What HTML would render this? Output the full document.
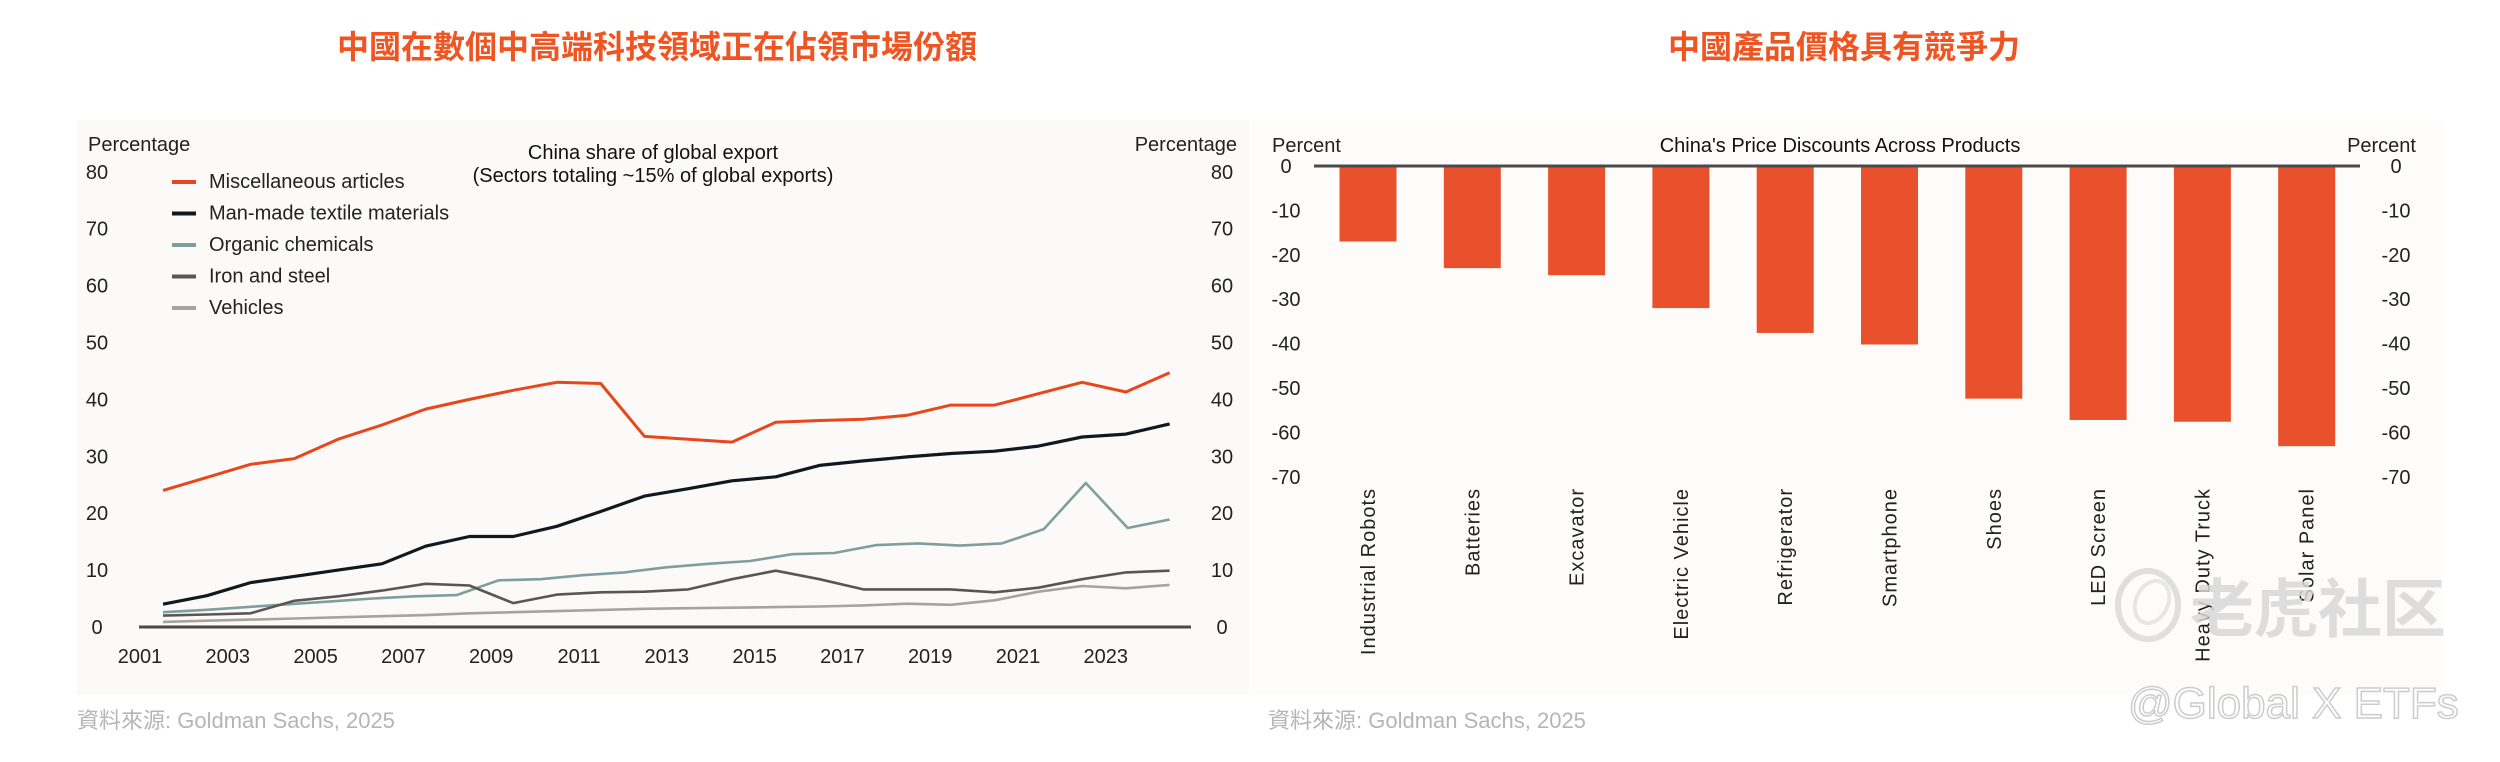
<!DOCTYPE html>
<html><head><meta charset="utf-8"><style>
html,body{margin:0;padding:0;background:#fff;}
svg{display:block;font-family:"Liberation Sans","Noto Sans CJK TC",sans-serif;}
</style></head><body>
<svg id="s" width="2500" height="762" viewBox="0 0 2500 762" xmlns="http://www.w3.org/2000/svg">
<text x="657" y="58" text-anchor="middle" font-size="32" font-weight="bold" fill="#ee5522" font-family="'Liberation Sans','Noto Sans CJK TC',sans-serif">中國在數個中高端科技領域正在佔領市場份額</text>
<text x="1844" y="58" text-anchor="middle" font-size="32" font-weight="bold" fill="#ee5522" font-family="'Liberation Sans','Noto Sans CJK TC',sans-serif">中國產品價格具有競爭力</text>
<rect x="77" y="120" width="1172" height="575" fill="#fbfaf8"/>
<rect x="1252" y="120" width="1190" height="575" fill="#fdfcfb"/>
<g id="left"></g>
<g id="right"></g>
<text x="77" y="728" font-size="22" fill="#b5b5b5">資料來源: Goldman Sachs, 2025</text>
<text x="1268" y="728" font-size="22" fill="#b5b5b5">資料來源: Goldman Sachs, 2025</text>
<g opacity="0.8">
<ellipse cx="2148" cy="605" rx="30" ry="34" fill="none" stroke="#d8d8d8" stroke-width="6"/>
<ellipse cx="2152" cy="602" rx="16" ry="22" fill="none" stroke="#e2e2e2" stroke-width="4" transform="rotate(25 2152 602)"/>
</g>
<text x="2190" y="632" font-size="64" font-weight="bold" fill="#d8d8d8" opacity="0.85">老虎社区</text>
<text x="2128" y="718" font-size="44" fill="#fff" stroke="#cccccc" stroke-width="1.5">@Global X ETFs</text>
</svg>
<script>
const years = ["2001","2003","2005","2007","2009","2011","2013","2015","2017","2019","2021","2023"];
const yTicks = [0,10,20,30,40,50,60,70,80];
const seriesNames = ["Miscellaneous articles","Man-made textile materials","Organic chemicals","Iron and steel","Vehicles"];
const misc = [24,26.3,28.6,29.6,33,35.5,38.3,40,41.6,43,42.8,33.5,33,32.5,36,36.3,36.5,37.2,39,39,41,43,41.3,44.7];
const textile = [4.0,5.5,7.8,8.9,10,11.1,14.2,15.9,15.9,17.7,20.3,23,24.3,25.7,26.4,28.4,29.2,29.9,30.5,30.9,31.8,33.4,33.9,35.7];
const organic = [2.6,3.0,3.5,4.0,4.5,5.0,5.4,5.6,8.2,8.4,9.1,9.6,10.5,11.1,11.6,12.8,13,14.4,14.7,14.3,14.7,17.2,25.3,17.4,18.9];
const iron = [2.0,2.2,2.4,4.6,5.4,6.4,7.6,7.3,4.2,5.7,6.1,6.2,6.6,8.4,9.9,8.4,6.6,6.6,6.6,6.1,6.9,8.4,9.6,9.9];
const vehicles = [0.9,1.1,1.3,1.5,1.7,1.9,2.1,2.4,2.6,2.8,3.0,3.2,3.3,3.4,3.5,3.6,3.8,4.1,3.9,4.7,6.2,7.2,6.8,7.4];
const categories = ["Industrial Robots","Batteries","Excavator","Electric Vehicle","Refrigerator","Smartphone","Shoes","LED Screen","Heavy Duty Truck","Solar Panel"];
const discounts = [-17.0,-23.0,-24.6,-32.0,-37.6,-40.2,-52.4,-57.2,-57.6,-63.1];
const barTicks = [0,-10,-20,-30,-40,-50,-60,-70];

const NS="http://www.w3.org/2000/svg";
function mk(parent,tag,attrs,text){const e=document.createElementNS(NS,tag);for(const k in attrs)e.setAttribute(k,attrs[k]);if(text!==undefined)e.textContent=text;parent.appendChild(e);return e;}

const L=document.getElementById('left');
const ly=v=>627-v*5.69;
const lx=yr=>138+(yr-2001)*43.9;
let t;
t=mk(L,'text',{x:88,y:151,'font-size':20,fill:'#222'},'Percentage');


t=mk(L,'text',{x:1237,y:151,'font-size':20,fill:'#222','text-anchor':'end'},'Percentage');


t=mk(L,'text',{x:653,y:159,'font-size':20,fill:'#111','text-anchor':'middle'},'China share of global export');


t=mk(L,'text',{x:653,y:182,'font-size':20,fill:'#111','text-anchor':'middle'},'(Sectors totaling ~15% of global exports)');


yTicks.forEach(v=>{
  t=mk(L,'text',{x:97,y:ly(v)+7,'font-size':20,fill:'#222','text-anchor':'middle'},String(v));
  
  
  t=mk(L,'text',{x:1222,y:ly(v)+7,'font-size':20,fill:'#222','text-anchor':'middle'},String(v));
  
  
});
years.forEach(y=>{
  t=mk(L,'text',{x:lx(+y)+2,y:663,'font-size':20,fill:'#222','text-anchor':'middle'},y);
  
  
});
const colors=['#e8471c','#0f1a1f','#7f9e9c','#5a5656','#a9a39d'];
const widths=[3,3.2,2.6,2.6,2.6];
const all=[misc,textile,organic,iron,vehicles];
const lineNames=['line-misc','line-textile','line-organic','line-iron','line-vehicles'];
all.forEach((arr,i)=>{
  const pts=arr.map((v,k)=>lx(2001.57+k*(2024.5-2001.57)/(arr.length-1)).toFixed(1)+','+ly(v).toFixed(1)).join(' ');
  const p=mk(L,'polyline',{points:pts,fill:'none',stroke:colors[i],'stroke-width':widths[i],'stroke-linejoin':'round'});
  
  
  const ly0=188+i*31.5;
  const lg=mk(L,'line',{x1:172,x2:196,y1:ly0-6,y2:ly0-6,stroke:colors[i],'stroke-width':4});
  
  
  t=mk(L,'text',{x:209,y:ly0,'font-size':20,fill:'#222'},seriesNames[i]);
  
  
});
const ax=mk(L,'line',{x1:139,x2:1191,y1:627,y2:627,stroke:'#4a4a4a','stroke-width':3});



const R=document.getElementById('right');
const by=v=>166-v*4.44;
const bx=i=>1368+i*104.3;
t=mk(R,'text',{x:1272,y:152,'font-size':20,fill:'#222'},'Percent');


t=mk(R,'text',{x:2416,y:152,'font-size':20,fill:'#222','text-anchor':'end'},'Percent');


t=mk(R,'text',{x:1840,y:152,'font-size':20,fill:'#111','text-anchor':'middle'},"China's Price Discounts Across Products");


barTicks.forEach(v=>{
  t=mk(R,'text',{x:1286,y:by(v)+7,'font-size':20,fill:'#222','text-anchor':'middle'},String(v));
  
  
  t=mk(R,'text',{x:2396,y:by(v)+7,'font-size':20,fill:'#222','text-anchor':'middle'},String(v));
  
  
});
discounts.forEach((v,i)=>{
  const r=mk(R,'rect',{x:bx(i)-28.5,y:by(0),width:57,height:by(v)-by(0),fill:'#e8512b'});
  
  
  t=mk(R,'text',{x:0,y:0,'font-size':20,fill:'#222','text-anchor':'end','letter-spacing':'1',transform:`translate(${bx(i)+7},488) rotate(-90)`},categories[i]);
  
  
});
const bax=mk(R,'line',{x1:1314,x2:2360,y1:166,y2:166,stroke:'#4a4a4a','stroke-width':3});


</script>
</body></html>
